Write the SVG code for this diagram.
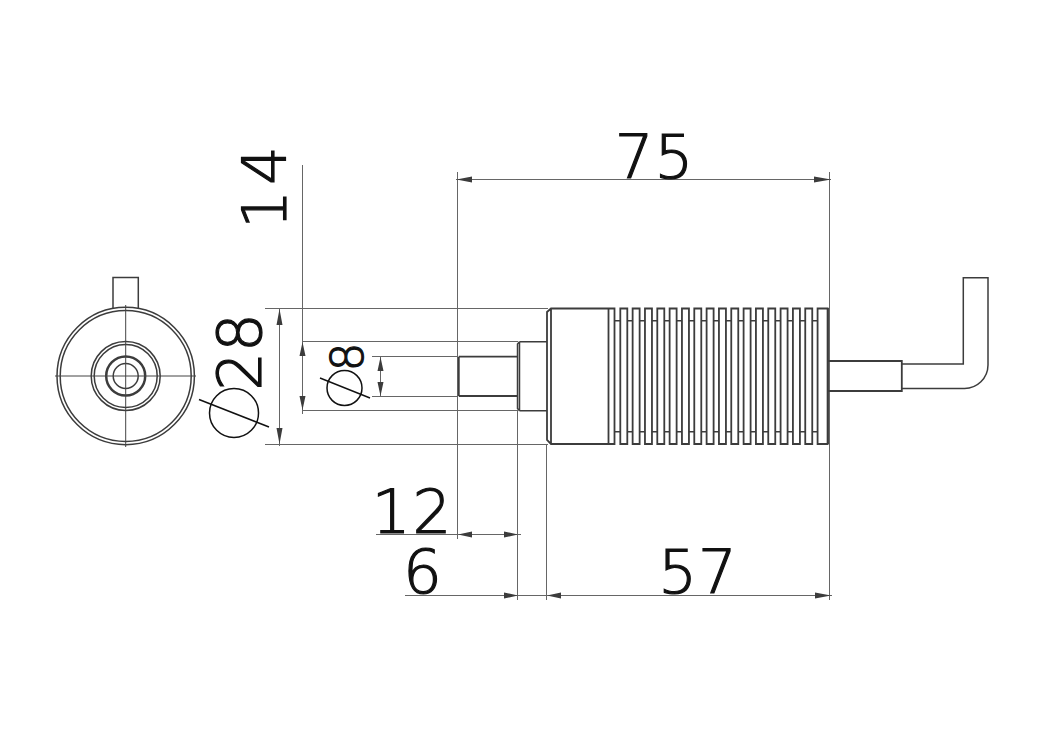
<svg xmlns="http://www.w3.org/2000/svg" width="1060" height="748" viewBox="0 0 1060 748">
<style>
.o{fill:none;stroke:#3c3c3c;stroke-width:1.5}
.t{fill:none;stroke:#3c3c3c;stroke-width:1.8}
.d{fill:none;stroke:#666;stroke-width:1}
.k{fill:none;stroke:#111;stroke-width:1.5}
.a{fill:#3c3c3c}
text{font-family:"DejaVu Sans","Liberation Sans",sans-serif;font-weight:200;fill:#111;stroke:#111;stroke-width:1.2}
</style>
<rect width="1060" height="748" fill="#fff"/>
<g id="connectors">
<path class="d" d="M456 179.500H831M457.500 172V539M829.500 172V600M302.500 165V414M265 308.500H548M265 444.500H548M279.500 308V446M302 341.500H518M302 410.500H518M372 356.500H458M372 396.500H458M380.500 356V396M376 534.500H521M405 595.500H832M517.500 411V600M546.500 445V600"/>
<path class="a" d="M456.500 179.500L472 176.500V182.500ZM831 179.500L814 176.500V182.500ZM279.500 309L276.500 325H282.500ZM279.500 444L276.500 428H282.500ZM302.500 342L299.500 356H305.500ZM302.500 410L299.500 396H305.500ZM380.500 357L377.500 371H383.500ZM380.500 396L377.500 382H383.500ZM458 534.500L472 531.500V537.500ZM518 534.500L504 531.500V537.500ZM518 595.500L504 592.500V598.500ZM547 595.500L561 592.500V598.500ZM831 595.500L815 592.500V598.500Z"/>
</g>
<g id="front-view">
<circle class="o" cx="125.700" cy="376" r="68.700"/>
<circle class="o" cx="125.700" cy="376" r="65.500"/>
<circle class="o" cx="125.700" cy="376" r="34.500"/>
<circle class="o" cx="125.700" cy="376" r="31.500"/>
<circle class="t" cx="125.700" cy="376" r="19.500" style="stroke-width:2.500"/>
<circle class="o" cx="125.700" cy="376" r="12.500"/>
<path class="o" d="M113 308V277.500H138.300V308"/>
<path class="d" style="stroke:#444" d="M55 376H196M125.700 305V447"/>
</g>
<g id="body">
<path class="t" d="M458.800 356.700H517.500M458.800 396H517.500M458.800 356.700V396"/>
<path class="o" d="M519.500 341.700H547M519.500 410.700H547M519.500 341.700L517.500 344V408.500L519.500 410.700M519.500 341.700V410.700"/>
<path class="t" d="M551 308.500H614.500V444H551L547 440V312ZM551 308.500V444M608.500 308.500V444"/>
<path class="t" id="fins" d="M620.300 308.500h7v135.500h-7zM632.630 308.500h7v135.500h-7zM644.960 308.500h7v135.500h-7zM657.290 308.500h7v135.500h-7zM669.620 308.500h7v135.500h-7zM681.950 308.500h7v135.500h-7zM694.280 308.500h7v135.500h-7zM706.610 308.500h7v135.500h-7zM718.940 308.500h7v135.500h-7zM731.270 308.500h7v135.500h-7zM743.600 308.500h7v135.500h-7zM755.930 308.500h7v135.500h-7zM768.260 308.500h7v135.500h-7zM780.590 308.500h7v135.500h-7zM792.920 308.500h7v135.500h-7zM805.250 308.500h7v135.500h-7zM817.580 308.500h10v135.500h-10z"/>
<path class="o" d="M614.500 320.700h5.800M627.300 320.700h5.300M639.630 320.700h5.300M651.960 320.700h5.300M664.290 320.700h5.300M676.620 320.700h5.300M688.950 320.700h5.300M701.280 320.700h5.300M713.610 320.700h5.300M725.940 320.700h5.300M738.270 320.700h5.300M750.600 320.700h5.300M762.930 320.700h5.300M775.260 320.700h5.300M787.590 320.700h5.300M799.920 320.700h5.300M812.250 320.700h5.300M614.500 431.700h5.800M627.300 431.700h5.300M639.630 431.700h5.300M651.960 431.700h5.300M664.290 431.700h5.300M676.620 431.700h5.300M688.950 431.700h5.300M701.280 431.700h5.300M713.610 431.700h5.300M725.940 431.700h5.300M738.270 431.700h5.300M750.600 431.700h5.300M762.930 431.700h5.300M775.260 431.700h5.300M787.590 431.700h5.300M799.920 431.700h5.300M812.250 431.700h5.300"/>
<path class="t" d="M828 361H901.800V391H828M828 308V444" />
<path class="o" d="M902 364H963.300V277.700H988V365A23.500 23.500 0 0 1 964 388.400H902"/>
</g>
<g id="labels">
<text x="654.500" y="178" font-size="61" text-anchor="middle" letter-spacing="1">75</text>
<text transform="translate(285.500 185) rotate(-90)" font-size="61" text-anchor="middle" letter-spacing="5">14</text>
<text transform="translate(260.500 352) rotate(-90)" font-size="61" text-anchor="middle">28</text>
<text transform="translate(363 357) rotate(-90)" font-size="45" text-anchor="middle">8</text>
<text x="412.500" y="533" font-size="61" text-anchor="middle" letter-spacing="2">12</text>
<text x="422.500" y="593" font-size="61" text-anchor="middle">6</text>
<text x="698" y="593" font-size="61" text-anchor="middle" letter-spacing="1">57</text>
<circle class="k" cx="234" cy="413" r="24.500"/>
<path class="k" d="M199 399.500L269 427"/>
<circle class="k" cx="344.500" cy="388" r="17.500"/>
<path class="k" d="M320 378L370 398"/>
</g>
</svg>
